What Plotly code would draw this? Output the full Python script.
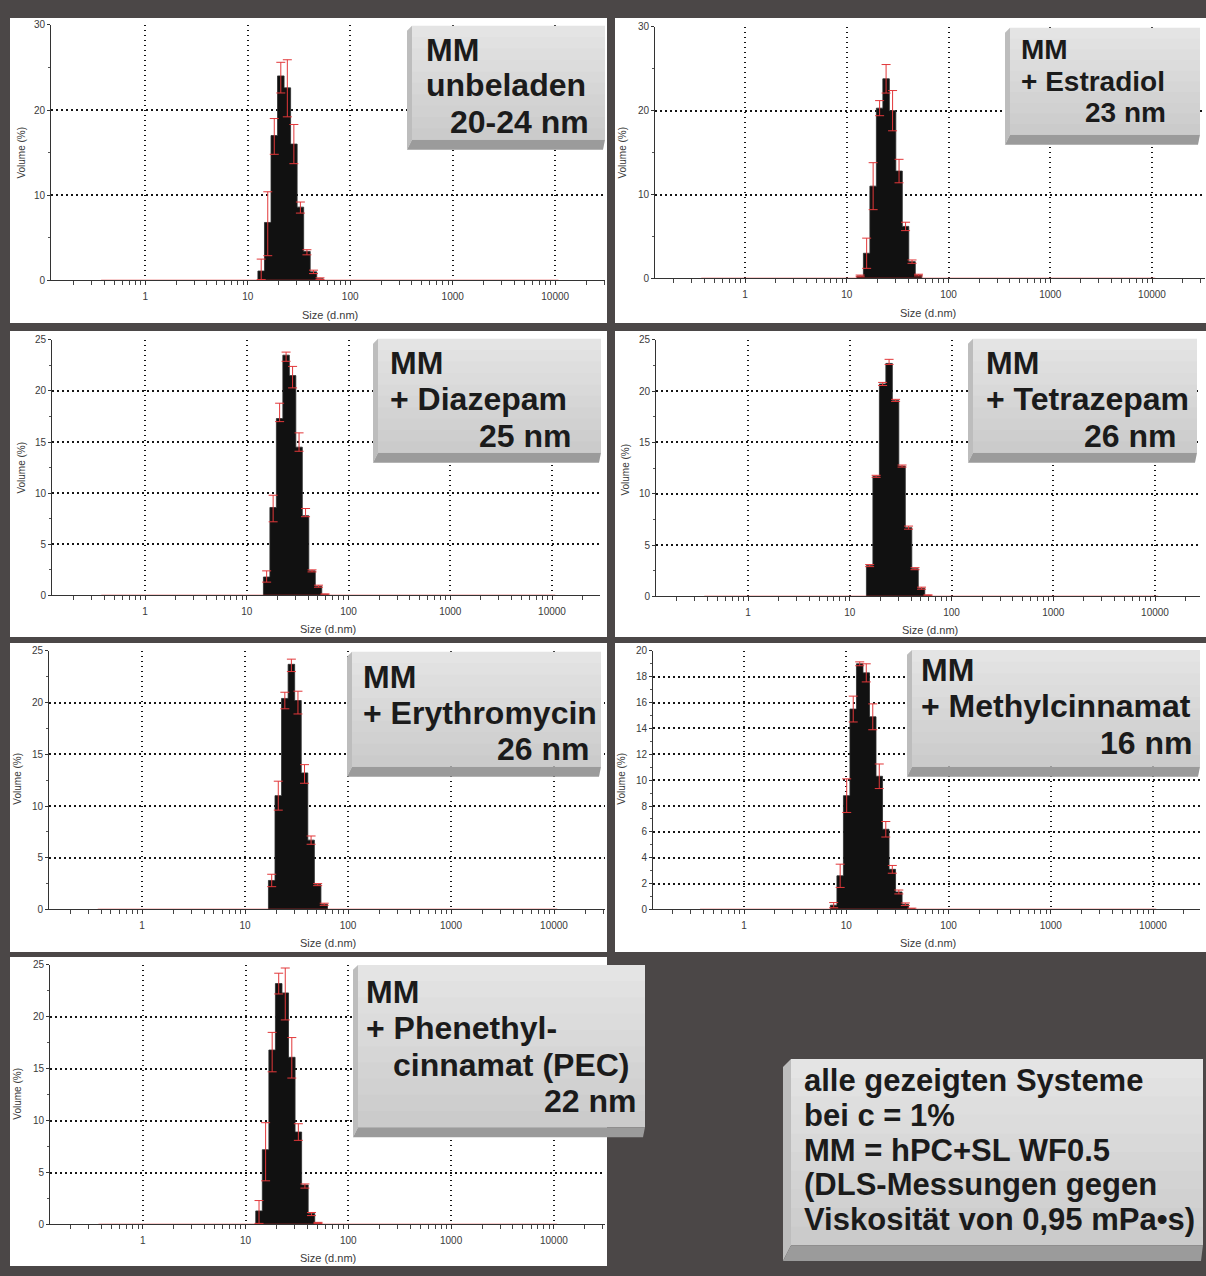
import plotly.graph_objects as go

W, H = 1206, 1276
BG = "#4b4747"
RED = "#e2383a"
FONT = "Liberation Sans, Arial, sans-serif"

# ------------------------------------------------------------------ data
TICK_VALS = [1, 10, 100, 1000, 10000]
TICK_TEXT = ["1", "10", "100", "1000", "10000"]
SIZE_RANGE = [0.4, 10000]          # first / last Malvern size class (d.nm)

SIZE_A = [13.54, 15.69, 18.17, 21.04, 24.36, 28.21, 32.67, 37.84, 43.82, 50.75]
SIZE_B = [15.69, 18.17, 21.04, 24.36, 28.21, 32.67, 37.84, 43.82, 50.75, 58.77]
SIZE_C = [18.17, 21.04, 24.36, 28.21, 32.67, 37.84, 43.82, 50.75, 58.77]
SIZE_D = [7.531, 8.721, 10.10, 11.70, 13.54, 15.69, 18.17, 21.04, 24.36,
          28.21, 32.67, 37.84, 43.82]

VOL_UNBELADEN = [1.1, 6.8, 17.0, 24.0, 22.6, 16.0, 8.6, 3.4, 1.0, 0.2]
ERRP_UNBELADEN = [1.4, 3.6, 2.0, 1.6, 3.3, 2.3, 0.6, 0.2, 0.2, 0.1]
ERRM_UNBELADEN = [1.0, 3.9, 2.2, 2.0, 3.4, 2.3, 0.7, 0.4, 0.2, 0.1]

VOL_ESTRADIOL = [0.3, 3.0, 11.0, 20.3, 23.8, 20.0, 12.8, 6.2, 2.0, 0.4]
ERRP_ESTRADIOL = [0.1, 1.8, 2.8, 0.9, 1.7, 2.4, 1.4, 0.5, 0.2, 0.1]
ERRM_ESTRADIOL = [0.1, 1.8, 2.8, 0.9, 1.7, 2.4, 1.4, 0.5, 0.2, 0.1]

VOL_DIAZEPAM = [1.8, 8.6, 17.3, 23.5, 21.5, 14.5, 7.8, 2.4, 0.9, 0.1]
ERRP_DIAZEPAM = [0.6, 1.2, 1.5, 0.3, 0.9, 1.4, 0.7, 0.1, 0.1, 0.05]
ERRM_DIAZEPAM = [0.5, 1.4, 0.3, 0.6, 1.2, 0.4, 0.1, 0.1, 0.1, 0.05]

VOL_TETRAZEPAM = [3.0, 11.7, 20.7, 22.7, 19.1, 12.7, 6.7, 2.7, 0.8, 0.1]
ERRP_TETRAZEPAM = [0.1, 0.1, 0.15, 0.4, 0.1, 0.1, 0.15, 0.1, 0.1, 0.05]
ERRM_TETRAZEPAM = [0.1, 0.1, 0.15, 0.1, 0.1, 0.1, 0.15, 0.1, 0.1, 0.05]

VOL_ERYTHROMYCIN = [2.8, 11.0, 20.4, 23.7, 20.2, 13.2, 6.7, 2.4, 0.5]
ERRP_ERYTHROMYCIN = [0.6, 1.4, 0.6, 0.5, 0.9, 0.8, 0.4, 0.1, 0.1]
ERRM_ERYTHROMYCIN = [0.6, 1.4, 1.0, 0.7, 1.3, 1.0, 0.4, 0.1, 0.1]

VOL_METHYLCINNAMAT = [0.33, 2.6, 8.8, 15.5, 19.0, 18.3, 14.9, 10.3, 6.2, 3.1, 1.35, 0.4, 0.05]
ERRP_METHYLCINNAMAT = [0.2, 0.9, 1.3, 1.0, 0.15, 0.7, 1.0, 0.95, 0.6, 0.3, 0.15, 0.1, 0.05]
ERRM_METHYLCINNAMAT = [0.2, 0.9, 1.3, 1.0, 0.15, 0.7, 1.0, 0.95, 0.6, 0.3, 0.15, 0.1, 0.05]

VOL_PEC = [1.3, 7.2, 16.8, 23.2, 22.3, 16.1, 8.9, 3.8, 1.05, 0.15]
ERRP_PEC = [1.0, 2.6, 1.7, 1.0, 2.4, 1.9, 0.8, 0.1, 0.1, 0.05]
ERRM_PEC = [1.2, 3.0, 2.1, 1.0, 2.6, 2.0, 0.8, 0.3, 0.2, 0.05]

NOTE_LINES = ["alle gezeigten Systeme", "bei c = 1%", "MM = hPC+SL WF0.5",
              "(DLS-Messungen gegen", "Viskosität von 0,95 mPa•s)"]

# ------------------------------------------------------------------ layout (pixels)
PANELS = [
    dict(sizes=SIZE_A, vol=VOL_UNBELADEN, ep=ERRP_UNBELADEN, em=ERRM_UNBELADEN,
         card=(10, 12, 607, 320), ax=(51, 605), ay=(19, 277), one=145.2, dec=102.5,
         ymax=30, dtick=10, xt=(330, 312), yt=(22, 148),
         box=(407, 20, 605, 145, 5, 10), fs=32,
         lines=[("MM", 425, 44, "left"), ("unbeladen", 425, 80, "left"),
                ("20-24 nm", 590, 117, "right")]),
    dict(sizes=SIZE_A, vol=VOL_ESTRADIOL, ep=ERRP_ESTRADIOL, em=ERRM_ESTRADIOL,
         card=(615, 12, 1206, 320), ax=(655, 1205), ay=(21, 275), one=745, dec=101.75,
         ymax=30, dtick=10, xt=(928, 310), yt=(623, 148),
         box=(1005, 22, 1200, 140, 5, 10), fs=28,
         lines=[("MM", 1020, 44, "left"), ("+ Estradiol", 1020, 76, "left"),
                ("23 nm", 1167, 108, "right")]),
    dict(sizes=SIZE_B, vol=VOL_DIAZEPAM, ep=ERRP_DIAZEPAM, em=ERRM_DIAZEPAM,
         card=(10, 328, 607, 637), ax=(52, 600), ay=(337, 595), one=145, dec=101.75,
         ymax=25, dtick=5, xt=(328, 629), yt=(22, 466),
         box=(373, 336, 601, 461, 5, 10), fs=32,
         lines=[("MM", 389, 360, "left"), ("+ Diazepam", 389, 397, "left"),
                ("25 nm", 572, 434, "right")]),
    dict(sizes=SIZE_B, vol=VOL_TETRAZEPAM, ep=ERRP_TETRAZEPAM, em=ERRM_TETRAZEPAM,
         card=(615, 328, 1206, 637), ax=(656, 1200), ay=(337, 596), one=748, dec=101.75,
         ymax=25, dtick=5, xt=(930, 630), yt=(626, 468),
         box=(968, 336, 1197, 461, 5, 10), fs=32,
         lines=[("MM", 985, 360, "left"), ("+ Tetrazepam", 985, 397, "left"),
                ("26 nm", 1177, 434, "right")]),
    dict(sizes=SIZE_C, vol=VOL_ERYTHROMYCIN, ep=ERRP_ERYTHROMYCIN, em=ERRM_ERYTHROMYCIN,
         card=(10, 643, 607, 955), ax=(49, 605), ay=(651, 912), one=142, dec=103,
         ymax=25, dtick=5, xt=(328, 946), yt=(18, 780),
         box=(347, 652, 601, 778, 5, 10), fs=32,
         lines=[("MM", 362, 677, "left"), ("+ Erythromycin", 362, 714, "left"),
                ("26 nm", 590, 750, "right")]),
    dict(sizes=SIZE_D, vol=VOL_METHYLCINNAMAT, ep=ERRP_METHYLCINNAMAT, em=ERRM_METHYLCINNAMAT,
         card=(615, 643, 1206, 955), ax=(653, 1200), ay=(651, 912), one=744, dec=102.25,
         ymax=20, dtick=2, xt=(928, 946), yt=(622, 780),
         box=(907, 650, 1200, 778, 5, 10), fs=32,
         lines=[("MM", 920, 670, "left"), ("+ Methylcinnamat", 920, 707, "left"),
                ("16 nm", 1193, 744, "right")]),
    dict(sizes=SIZE_A, vol=VOL_PEC, ep=ERRP_PEC, em=ERRM_PEC,
         card=(10, 960, 607, 1272), ax=(50, 605), ay=(968, 1230), one=142.7, dec=102.8,
         ymax=25, dtick=5, xt=(328, 1264), yt=(18, 1098),
         box=(353, 968, 645, 1142, 5, 10), fs=32,
         lines=[("MM", 365, 995, "left"), ("+ Phenethyl-", 365, 1032, "left"),
                ("cinnamat (PEC)", 392, 1069, "left"), ("22 nm", 637, 1105, "right")]),
]
NOTE_BOX = (783, 1063, 1203, 1267, 8, 16)
NOTE_X, NOTE_Y0, NOTE_DY = 803, 1085, 35


def fx(x):
    return x / W


def fy(y):
    return 1 - y / H


def path(pts):
    return "M " + " L ".join(f"{fx(x):.5f},{fy(y):.5f}" for x, y in pts) + " Z"


def mix(c1, c2, t):
    a = [int(c1[i:i + 2], 16) for i in (1, 3, 5)]
    b = [int(c2[i:i + 2], 16) for i in (1, 3, 5)]
    return "#" + "".join(f"{round(a[k] + (b[k] - a[k]) * t):02x}" for k in range(3))


shapes = []
annotations = []


def add_box(x0, y0, x1, y1, bl, bb):
    n = 10
    fy1 = y1 - bb
    for k in range(n):
        ya = y0 + (fy1 - y0) * k / n
        yb = y0 + (fy1 - y0) * (k + 1) / n + (0.8 if k < n - 1 else 0)
        shapes.append(dict(type="rect", xref="paper", yref="paper", layer="above",
                           x0=fx(x0 + bl), x1=fx(x1), y0=fy(yb), y1=fy(ya),
                           fillcolor=mix("#e4e4e4", "#cbcbcb", k / (n - 1)),
                           line=dict(width=0)))
    shapes.append(dict(type="path", xref="paper", yref="paper", layer="above",
                       path=path([(x0, y0 + bl), (x0 + bl, y0), (x0 + bl, fy1), (x0, y1)]),
                       fillcolor="#bdbdbd", line=dict(width=0)))
    shapes.append(dict(type="path", xref="paper", yref="paper", layer="above",
                       path=path([(x0 + bl, fy1), (x1, fy1), (x1 - 2, y1), (x0, y1)]),
                       fillcolor="#9b9b9b", line=dict(width=0)))


fig = go.Figure()
minor_vals = [m * 10 ** d for d in range(-1, 5) for m in range(2, 10)]
layout_axes = {}

for i, p in enumerate(PANELS, start=1):
    xa = "x" if i == 1 else f"x{i}"
    ya = "y" if i == 1 else f"y{i}"
    xkey = "xaxis" if i == 1 else f"xaxis{i}"
    ykey = "yaxis" if i == 1 else f"yaxis{i}"

    # white card
    cx0, cy0, cx1, cy1 = p["card"]
    shapes.append(dict(type="rect", xref="paper", yref="paper", layer="below",
                       x0=fx(cx0), x1=fx(cx1), y0=fy(cy1), y1=fy(cy0),
                       fillcolor="white", line=dict(width=0)))

    sizes, vols = p["sizes"], p["vol"]
    half = (sizes[1] / sizes[0]) ** 0.5
    bx, by = [sizes[0] / half], [0]
    for s, v in zip(sizes, vols):
        bx += [s / half, s * half]
        by += [v, v]
    bx.append(sizes[-1] * half)
    by.append(0)
    fig.add_trace(go.Scatter(x=bx, y=by, mode="lines", fill="toself",
                             fillcolor="#111111", line=dict(color="#2b2b2b", width=0.8),
                             xaxis=xa, yaxis=ya, hoverinfo="skip", showlegend=False))
    fig.add_trace(go.Scatter(x=[SIZE_RANGE[0] / half, SIZE_RANGE[1] * half], y=[0, 0],
                             mode="lines", line=dict(color=RED, width=1.3),
                             xaxis=xa, yaxis=ya, hoverinfo="skip", showlegend=False))
    fig.add_trace(go.Scatter(x=sizes, y=vols, mode="markers",
                             marker=dict(size=1, opacity=0),
                             error_y=dict(type="data", symmetric=False, array=p["ep"],
                                          arrayminus=p["em"], color=RED, thickness=1, width=4.5),
                             xaxis=xa, yaxis=ya, hoverinfo="skip", showlegend=False))

    lpx, rpx = p["ax"]
    tpx, zpx = p["ay"]
    lo = -(p["one"] - lpx) / p["dec"]
    hi = (rpx - p["one"]) / p["dec"]
    layout_axes[xkey] = dict(
        domain=[fx(lpx), fx(rpx)], type="log", range=[lo, hi], anchor=ya,
        tickmode="array", tickvals=TICK_VALS, ticktext=TICK_TEXT,
        ticks="outside", ticklen=4, tickcolor="#333", tickwidth=1,
        ticklabelstandoff=3,
        showline=True, linecolor="#333", linewidth=1, zeroline=False,
        showgrid=True, gridcolor="#151515", griddash="1.6px,3.4px", gridwidth=1.5,
        minor=dict(tickmode="array", tickvals=minor_vals, ticks="outside",
                   ticklen=4, tickcolor="#444", showgrid=False),
        tickfont=dict(family=FONT, size=10, color="#3a3a3a"), fixedrange=True)
    layout_axes[ykey] = dict(
        domain=[fy(zpx), fy(tpx)], range=[0, p["ymax"]], anchor=xa,
        dtick=p["dtick"], tick0=0, ticks="outside", ticklen=3, tickcolor="#333",
        showline=True, linecolor="#333", linewidth=1, zeroline=False,
        showgrid=True, gridcolor="#151515", griddash="1.6px,3.4px", gridwidth=1.5,
        minor=dict(dtick=p["dtick"] / 2, tick0=0, ticks="outside", ticklen=2,
                   tickcolor="#555", showgrid=False),
        tickfont=dict(family=FONT, size=10, color="#3a3a3a"), fixedrange=True)

    annotations.append(dict(text="Size (d.nm)", xref="paper", yref="paper",
                            x=fx(p["xt"][0]), y=fy(p["xt"][1]), showarrow=False,
                            xanchor="center", yanchor="middle",
                            font=dict(family=FONT, size=11, color="#3a3a3a")))
    annotations.append(dict(text="Volume (%)", xref="paper", yref="paper",
                            x=fx(p["yt"][0]), y=fy(p["yt"][1]), showarrow=False,
                            textangle=-90, xanchor="center", yanchor="middle",
                            font=dict(family=FONT, size=10, color="#3a3a3a")))

    add_box(*p["box"])
    for txt, tx, ty, anc in p["lines"]:
        annotations.append(dict(text=f"<b>{txt}</b>", xref="paper", yref="paper",
                                x=fx(tx), y=fy(ty), showarrow=False,
                                xanchor=anc, yanchor="middle", borderpad=0,
                                font=dict(family=FONT, size=p["fs"], color="#1b1b1b")))

add_box(*NOTE_BOX)
for k, txt in enumerate(NOTE_LINES):
    annotations.append(dict(text=f"<b>{txt}</b>", xref="paper", yref="paper",
                            x=fx(NOTE_X), y=fy(NOTE_Y0 + k * NOTE_DY), showarrow=False,
                            xanchor="left", yanchor="middle", borderpad=0,
                            font=dict(family=FONT, size=31, color="#1b1b1b")))

fig.update_layout(
    width=W, height=H, margin=dict(l=0, r=0, t=0, b=0, pad=0),
    paper_bgcolor=BG, plot_bgcolor="white", showlegend=False, hovermode=False,
    shapes=shapes, annotations=annotations, **layout_axes)

fig.write_html("out.html", config={"displayModeBar": False},
               post_script="document.body.style.margin='0';document.body.style.overflow='hidden';")
